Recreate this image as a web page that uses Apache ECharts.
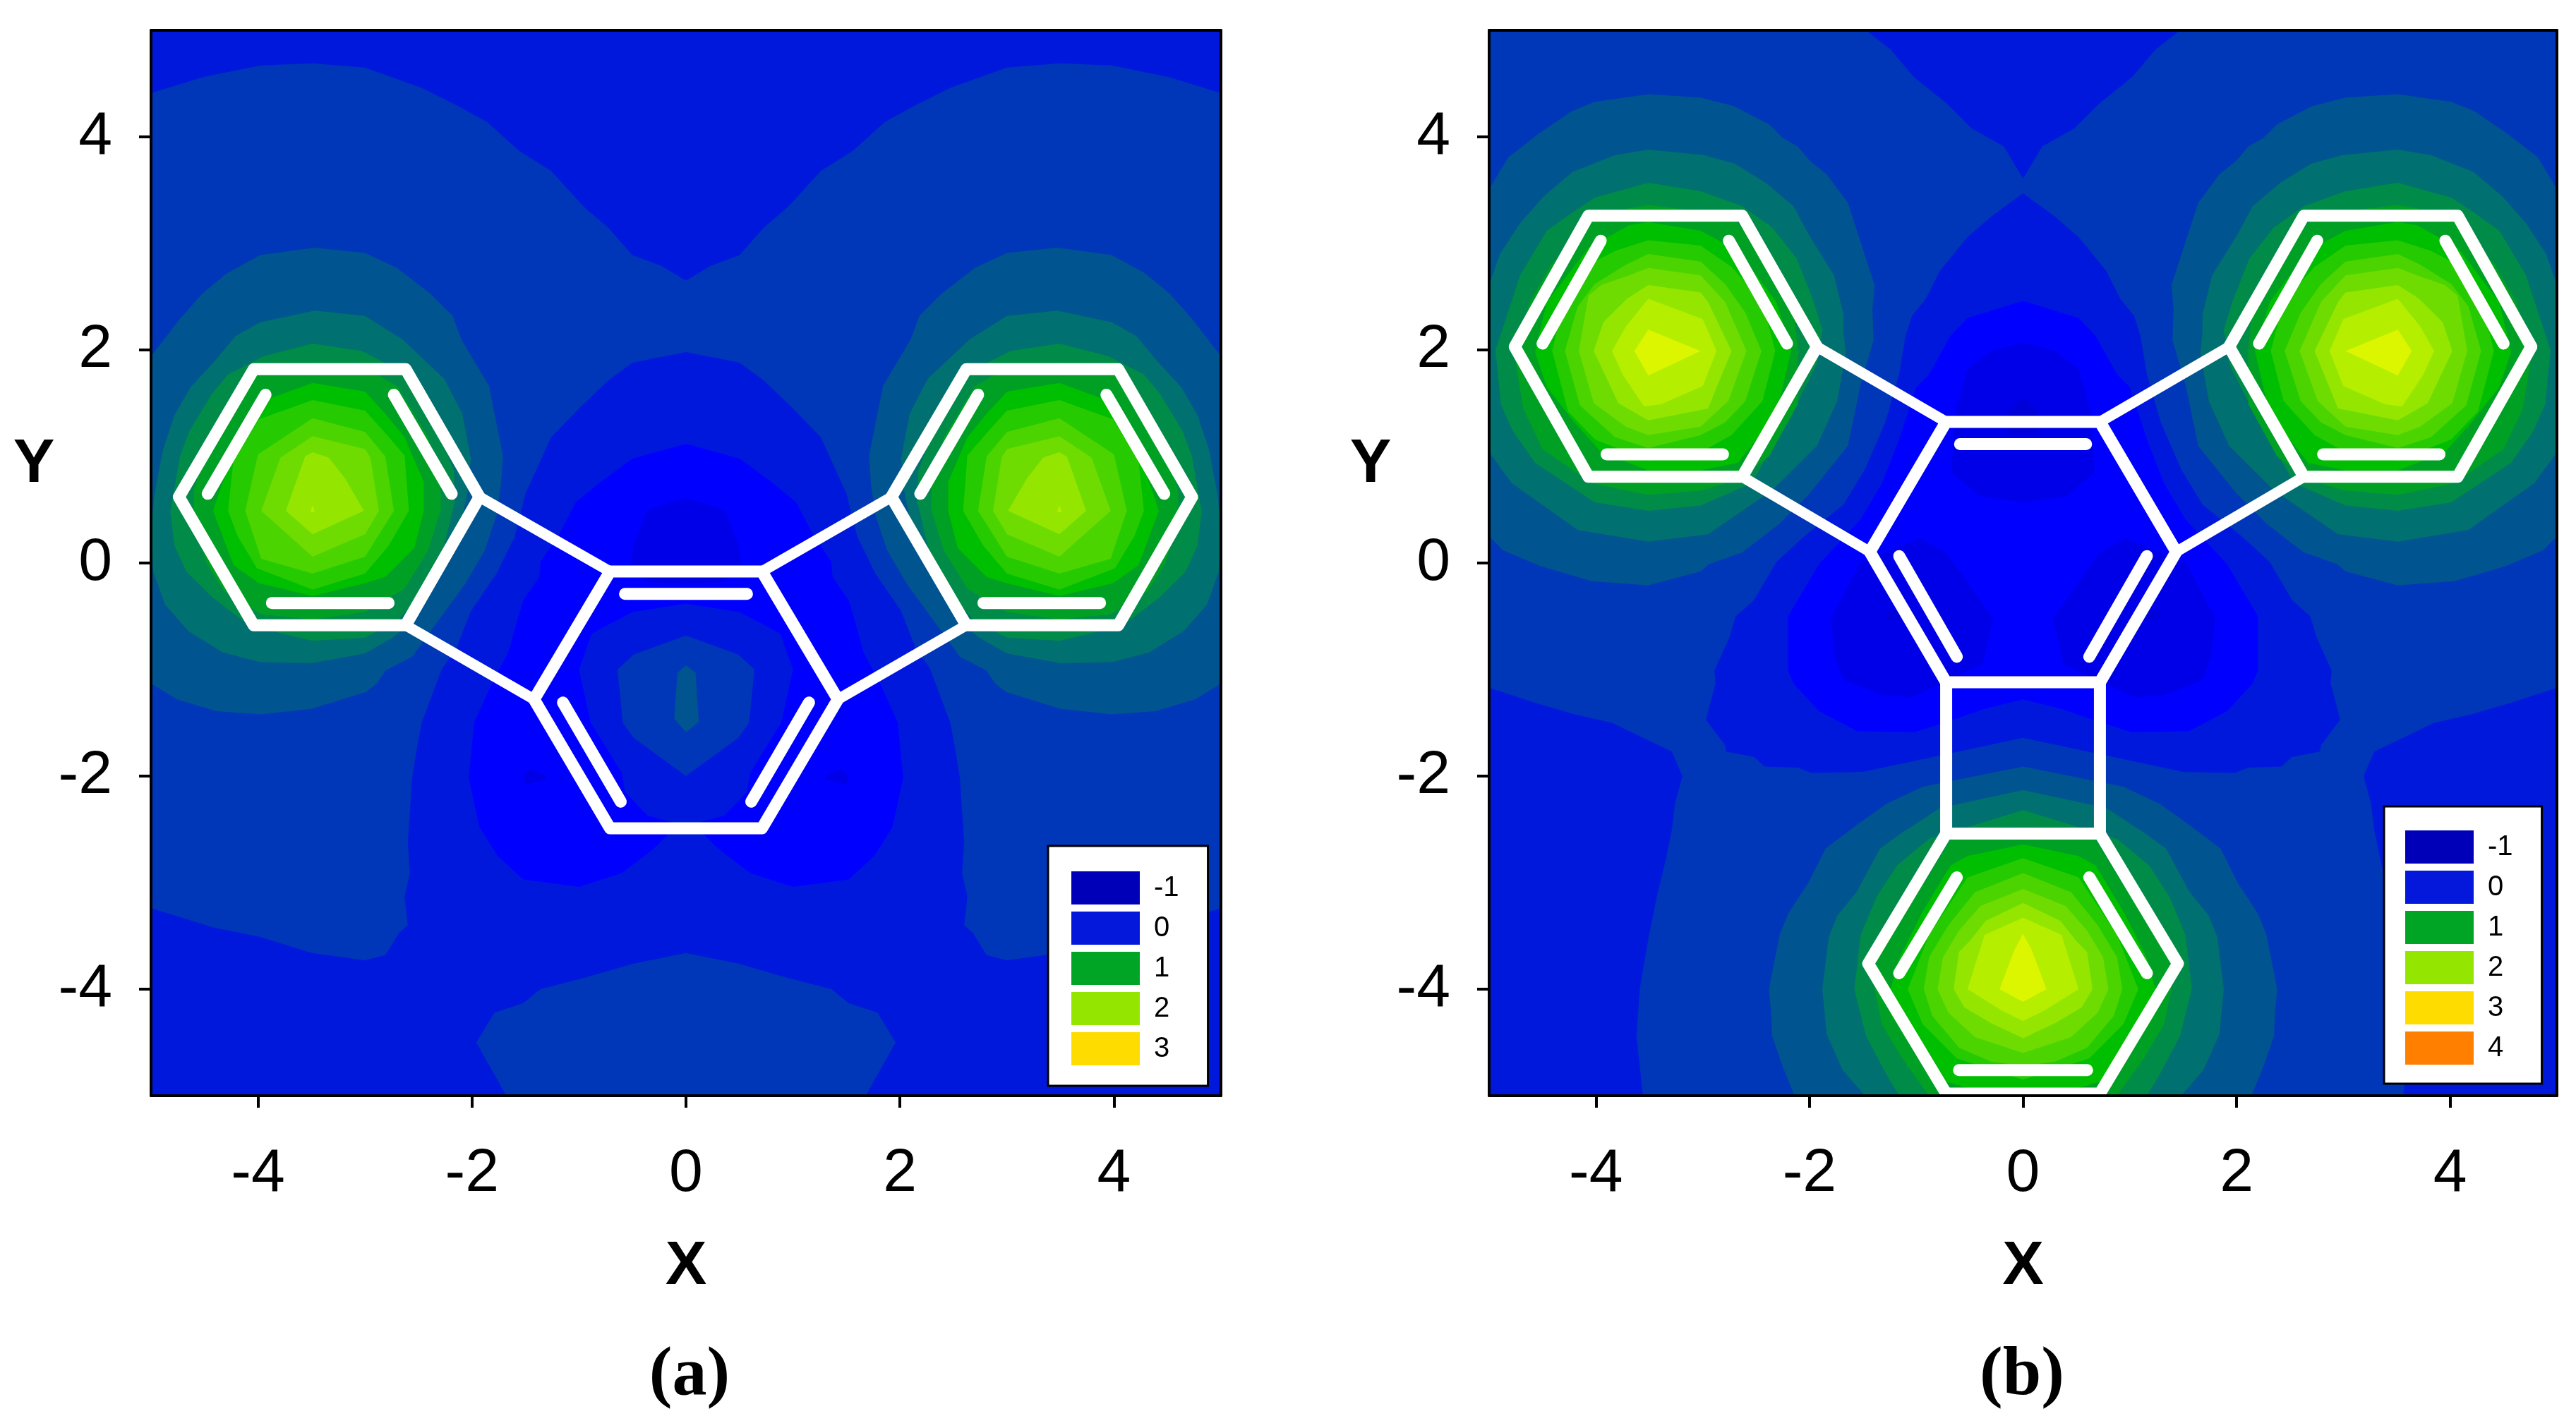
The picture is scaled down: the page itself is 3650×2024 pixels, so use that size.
<!DOCTYPE html>
<html>
<head>
<meta charset="utf-8">
<title>Contour maps (a) and (b)</title>
<script src="https://cdn.jsdelivr.net/npm/echarts@6/dist/echarts.min.js"></script>
<style>
  html, body { margin: 0; background: #fff; }
  #chart { width: 3650px; height: 2024px; }
</style>
</head>
<body>
<div id="chart"></div>
<script>
// tick labels and legend
const tickValues = [-4, -2, 0, 2, 4]
const legendA = ['-1', '0', '1', '2', '3']
const legendB = ['-1', '0', '1', '2', '3', '4']
const legendColors = { '-1': '#0000B8', '0': '#0318DA', '1': '#00A525', '2': '#94E600', '3': '#FFDC00', '4': '#FF8000' }

// contour band colours, low to high
const deepest = '#0000D8'
const deep = '#0000E8'
const blue = '#0000FF'
const band0 = '#0018DC'
const band1 = '#0036B8'
const band2 = '#005490'
const band3 = '#007070'
const band4 = '#008C48'
const band5 = '#00A024'
const band6 = '#00BE00'
const band7 = '#26CA00'
const band8 = '#4CD400'
const band9 = '#6EDC00'
const band10 = '#94E600'
const band11 = '#B6EE00'
const band12 = '#DCF600'

// whole plot area, lowest band
const fullArea = [[-5,5],[5,5],[5,-5],[-5,-5]]

// ---- panel (a) contours, outlines [x, y]
const aOuter = [[-5,4.41],[-4.52,4.56],[-3.98,4.67],[-3.49,4.69],[-3,4.65],[-2.47,4.46],[-2.13,4.29],[-1.86,4.14],[-1.56,3.87],[-1.26,3.68],[-0.95,3.34],[-0.73,3.15],[-0.5,2.89],[-0.23,2.79],[0,2.65],[0.23,2.79],[0.5,2.89],[0.73,3.15],[0.95,3.34],[1.26,3.68],[1.56,3.87],[1.86,4.14],[2.13,4.29],[2.47,4.46],[3,4.65],[3.49,4.69],[3.98,4.67],[4.52,4.56],[5,4.41],[5,-5],[-5,-5]]
const aInner = [[-5,-3.24],[-4.42,-3.42],[-3.98,-3.51],[-3.5,-3.66],[-3,-3.73],[-2.81,-3.68],[-2.68,-3.47],[-2.6,-3.4],[-2.63,-3.13],[-2.58,-2.91],[-2.6,-2.62],[-2.58,-2.33],[-2.56,-2.02],[-2.51,-1.71],[-2.47,-1.5],[-2.28,-0.99],[-2.15,-0.81],[-2.01,-0.45],[-1.77,-0.1],[-1.6,0.25],[-1.5,0.65],[-1.26,1.18],[-0.99,1.46],[-0.73,1.71],[-0.5,1.88],[0,1.98],[0.5,1.88],[0.73,1.71],[0.99,1.46],[1.26,1.18],[1.5,0.65],[1.6,0.25],[1.77,-0.1],[2.01,-0.45],[2.15,-0.81],[2.28,-0.99],[2.47,-1.5],[2.51,-1.71],[2.56,-2.02],[2.58,-2.33],[2.6,-2.62],[2.58,-2.91],[2.63,-3.13],[2.6,-3.4],[2.68,-3.47],[2.81,-3.68],[3,-3.73],[3.5,-3.66],[3.98,-3.51],[4.42,-3.42],[5,-3.24],[5,-5],[-5,-5]]
const aBottomLobe = [[-1.68,-5],[-1.96,-4.5],[-1.79,-4.22],[-1.52,-4.13],[-1.36,-4],[-0.94,-3.89],[-0.49,-3.76],[0,-3.66],[0.49,-3.76],[0.94,-3.89],[1.36,-4],[1.52,-4.13],[1.79,-4.22],[1.96,-4.5],[1.68,-5]]
const aCoreBlue = [[0,1.12],[-0.5,0.98],[-0.8,0.76],[-1.03,0.57],[-1.18,0.28],[-1.36,0.01],[-1.37,-0.13],[-1.52,-0.35],[-1.58,-0.55],[-1.66,-0.84],[-1.8,-1.1],[-1.98,-1.5],[-2.03,-2.02],[-1.93,-2.48],[-1.76,-2.75],[-1.52,-2.97],[-1,-3.04],[-0.6,-2.91],[-0.3,-2.68],[-0.17,-2.55],[0,-2.45],[0.17,-2.55],[0.3,-2.68],[0.6,-2.91],[1,-3.04],[1.52,-2.97],[1.76,-2.75],[1.93,-2.48],[2.03,-2.02],[1.98,-1.5],[1.8,-1.1],[1.66,-0.84],[1.58,-0.55],[1.52,-0.35],[1.37,-0.13],[1.36,0.01],[1.18,0.28],[1.03,0.57],[0.8,0.76],[0.5,0.98]]
const aCoreDeep = [[0,0.61],[-0.36,0.5],[-0.49,0.17],[-0.52,-0.04],[-0.35,-0.18],[0,-0.2],[0.35,-0.18],[0.52,-0.04],[0.49,0.17],[0.36,0.5]]
const aSpotL = [[-1.45,-1.93],[-1.3,-2],[-1.3,-2.03],[-1.5,-2.08],[-1.52,-2]]
const aSpotR = [[1.45,-1.93],[1.3,-2],[1.3,-2.03],[1.5,-2.08],[1.52,-2]]
const aRing0 = [[0,-0.38],[-0.5,-0.46],[-0.88,-0.66],[-1,-1],[-0.89,-1.5],[-0.6,-1.97],[-0.57,-2.15],[-0.36,-2.37],[0,-2.47],[0.36,-2.37],[0.57,-2.15],[0.6,-1.97],[0.89,-1.5],[1,-1],[0.88,-0.66],[0.5,-0.46]]
const aRing1 = [[0,-0.68],[-0.49,-0.86],[-0.64,-1],[-0.59,-1.5],[-0.49,-1.64],[0,-2],[0.49,-1.64],[0.59,-1.5],[0.64,-1],[0.49,-0.86]]
const aRing2 = [[0,-0.96],[-0.08,-1.03],[-0.11,-1.46],[0,-1.59],[0.12,-1.49],[0.09,-1.03]]

const aL2 = [[-5,1.94],[-4.74,2.28],[-4.52,2.53],[-4.29,2.72],[-3.98,2.89],[-3.47,2.96],[-3,2.91],[-2.7,2.77],[-2.39,2.53],[-2.18,2.32],[-2.1,2.1],[-1.84,1.66],[-1.71,1],[-1.73,0.73],[-1.77,0.45],[-1.88,0.12],[-2.06,-0.19],[-2.56,-0.88],[-2.81,-1.01],[-2.89,-1.13],[-2.99,-1.21],[-3.5,-1.37],[-3.98,-1.42],[-4.39,-1.39],[-4.76,-1.28],[-5,-1.13]]
const aL3 = [[-3.47,2.37],[-3,2.32],[-2.65,2.1],[-2.26,1.73],[-2.09,1.4],[-2.01,0.98],[-2.04,0.67],[-2.1,0.38],[-2.26,0],[-2.41,-0.28],[-2.56,-0.55],[-2.74,-0.7],[-3,-0.85],[-3.5,-0.94],[-3.98,-0.93],[-4.33,-0.84],[-4.65,-0.64],[-4.87,-0.39],[-4.98,-0.08],[-5,0.3],[-4.97,0.63],[-4.89,1.06],[-4.78,1.39],[-4.63,1.65],[-4.4,1.9],[-4.21,2.13],[-3.98,2.26]]
const aL4 = [[-3.49,2.06],[-3.03,1.99],[-2.7,1.82],[-2.5,1.6],[-2.37,1.37],[-2.17,0.87],[-2.16,0.58],[-2.3,0],[-2.43,-0.24],[-2.7,-0.55],[-3,-0.7],[-3.49,-0.73],[-4.08,-0.59],[-4.43,-0.32],[-4.67,-0.08],[-4.78,0.16],[-4.82,0.48],[-4.73,1],[-4.64,1.24],[-4.43,1.59],[-4.28,1.77],[-3.95,1.94]]
const aL5 = [[-3.49,1.88],[-3,1.83],[-2.7,1.66],[-2.41,1.18],[-2.3,0.8],[-2.29,0.51],[-2.41,0.12],[-2.63,-0.24],[-3,-0.46],[-3.49,-0.53],[-3.97,-0.48],[-4.32,-0.26],[-4.48,0],[-4.6,0.38],[-4.6,0.69],[-4.48,1.04],[-4.32,1.37],[-4.01,1.79]]
const aL6 = [[-3.49,1.69],[-3,1.61],[-2.81,1.4],[-2.63,1.18],[-2.45,0.76],[-2.45,0.49],[-2.54,0.14],[-2.81,-0.13],[-3,-0.19],[-3.49,-0.31],[-3.99,-0.19],[-4.23,-0.02],[-4.42,0.49],[-4.34,0.73],[-4.23,1],[-4.01,1.44],[-3.93,1.53]]
const aL7 = [[-3.49,1.53],[-3,1.43],[-2.81,1.22],[-2.63,1.01],[-2.59,0.49],[-2.78,0.16],[-3,-0.1],[-3.49,-0.25],[-4.01,-0.05],[-4.19,0.25],[-4.28,0.49],[-4.23,0.96],[-3.99,1.35]]
const aL8 = [[-3.49,1.36],[-3,1.23],[-2.81,1],[-2.73,0.49],[-3,0.06],[-3.49,-0.1],[-3.97,0.04],[-4.12,0.49],[-4,1.02]]
const aL9 = [[-3.49,1.19],[-3,1.07],[-2.95,0.99],[-2.87,0.49],[-3,0.27],[-3.49,0.06],[-3.97,0.49],[-3.79,0.99]]
const aL10 = [[-3.49,1.04],[-3.34,0.99],[-3.19,0.8],[-3.01,0.49],[-3.49,0.27],[-3.74,0.49],[-3.56,1]]
const aL11 = [[-3.49,0.54],[-3.51,0.48],[-3.47,0.48]]

const aR2 = [[5,1.94],[4.74,2.28],[4.52,2.53],[4.29,2.72],[3.98,2.89],[3.47,2.96],[3,2.91],[2.7,2.77],[2.39,2.53],[2.18,2.32],[2.1,2.1],[1.84,1.66],[1.71,1],[1.73,0.73],[1.77,0.45],[1.88,0.12],[2.06,-0.19],[2.56,-0.88],[2.81,-1.01],[2.89,-1.13],[2.99,-1.21],[3.5,-1.37],[3.98,-1.42],[4.39,-1.39],[4.76,-1.28],[5,-1.13]]
const aR3 = [[3.47,2.37],[3,2.32],[2.65,2.1],[2.26,1.73],[2.09,1.4],[2.01,0.98],[2.04,0.67],[2.1,0.38],[2.26,0],[2.41,-0.28],[2.56,-0.55],[2.74,-0.7],[3,-0.85],[3.5,-0.94],[3.98,-0.93],[4.33,-0.84],[4.65,-0.64],[4.87,-0.39],[4.98,-0.08],[5,0.3],[4.97,0.63],[4.89,1.06],[4.78,1.39],[4.63,1.65],[4.4,1.9],[4.21,2.13],[3.98,2.26]]
const aR4 = [[3.49,2.06],[3.03,1.99],[2.7,1.82],[2.5,1.6],[2.37,1.37],[2.17,0.87],[2.16,0.58],[2.3,0],[2.43,-0.24],[2.7,-0.55],[3,-0.7],[3.49,-0.73],[4.08,-0.59],[4.43,-0.32],[4.67,-0.08],[4.78,0.16],[4.82,0.48],[4.73,1],[4.64,1.24],[4.43,1.59],[4.28,1.77],[3.95,1.94]]
const aR5 = [[3.49,1.88],[3,1.83],[2.7,1.66],[2.41,1.18],[2.3,0.8],[2.29,0.51],[2.41,0.12],[2.63,-0.24],[3,-0.46],[3.49,-0.53],[3.97,-0.48],[4.32,-0.26],[4.48,0],[4.6,0.38],[4.6,0.69],[4.48,1.04],[4.32,1.37],[4.01,1.79]]
const aR6 = [[3.49,1.69],[3,1.61],[2.81,1.4],[2.63,1.18],[2.45,0.76],[2.45,0.49],[2.54,0.14],[2.81,-0.13],[3,-0.19],[3.49,-0.31],[3.99,-0.19],[4.23,-0.02],[4.42,0.49],[4.34,0.73],[4.23,1],[4.01,1.44],[3.93,1.53]]
const aR7 = [[3.49,1.53],[3,1.43],[2.81,1.22],[2.63,1.01],[2.59,0.49],[2.78,0.16],[3,-0.1],[3.49,-0.25],[4.01,-0.05],[4.19,0.25],[4.28,0.49],[4.23,0.96],[3.99,1.35]]
const aR8 = [[3.49,1.36],[3,1.23],[2.81,1],[2.73,0.49],[3,0.06],[3.49,-0.1],[3.97,0.04],[4.12,0.49],[4,1.02]]
const aR9 = [[3.49,1.19],[3,1.07],[2.95,0.99],[2.87,0.49],[3,0.27],[3.49,0.06],[3.97,0.49],[3.79,0.99]]
const aR10 = [[3.49,1.04],[3.34,0.99],[3.19,0.8],[3.01,0.49],[3.49,0.27],[3.74,0.49],[3.56,1]]
const aR11 = [[3.49,0.54],[3.51,0.48],[3.47,0.48]]

// painted in this order, later bands cover earlier ones
const aBands = [
  [band0, fullArea], [band1, aOuter], [band0, aInner], [band1, aBottomLobe], [blue, aCoreBlue], [deep, aCoreDeep], [deep, aSpotL], [deep, aSpotR],
  [band0, aRing0], [band1, aRing1], [band2, aRing2],
  [band2, aL2], [band3, aL3], [band4, aL4], [band5, aL5], [band6, aL6], [band7, aL7], [band8, aL8], [band9, aL9], [band10, aL10], [band11, aL11],
  [band2, aR2], [band3, aR3], [band4, aR4], [band5, aR5], [band6, aR6], [band7, aR7], [band8, aR8], [band9, aR9], [band10, aR10], [band11, aR11]
]

// ---- panel (b) contours
const bOuter = [[-5,-1.17],[-5,5],[-1.47,5],[-1.24,4.82],[-1.02,4.56],[-0.71,4.31],[-0.48,4.08],[-0.18,3.91],[0,3.61],[0.18,3.91],[0.48,4.08],[0.71,4.31],[1.02,4.56],[1.24,4.82],[1.47,5],[5,5],[5,-1.17],[4.58,-1.31],[4.2,-1.42],[3.85,-1.5],[3.56,-1.64],[3.29,-1.77],[3.19,-2],[3.26,-2.26],[3.29,-2.51],[3.35,-2.8],[3.43,-3.13],[3.51,-3.53],[3.59,-4],[3.62,-4.44],[3.56,-5],[-3.56,-5],[-3.62,-4.44],[-3.59,-4],[-3.51,-3.53],[-3.43,-3.13],[-3.35,-2.8],[-3.29,-2.51],[-3.26,-2.26],[-3.19,-2],[-3.29,-1.77],[-3.56,-1.64],[-3.85,-1.5],[-4.2,-1.42],[-4.58,-1.31]]
const bInner = [[0,3.47],[-0.3,3.25],[-0.52,3.06],[-0.78,2.74],[-0.91,2.48],[-1.04,2.32],[-1.1,2.13],[-1.16,1.77],[-1.29,1.32],[-1.48,0.88],[-1.68,0.55],[-2.06,0.24],[-2.31,0.01],[-2.52,-0.35],[-2.69,-0.5],[-2.75,-0.7],[-2.89,-1.01],[-2.88,-1.13],[-2.97,-1.47],[-2.79,-1.71],[-2.78,-1.77],[-2.52,-1.82],[-2.42,-1.91],[-2.11,-1.92],[-1.98,-1.97],[-1.5,-1.96],[-0.84,-1.82],[0,-1.64],[0.84,-1.82],[1.5,-1.96],[1.98,-1.97],[2.11,-1.92],[2.42,-1.91],[2.52,-1.82],[2.78,-1.77],[2.79,-1.71],[2.97,-1.47],[2.88,-1.13],[2.89,-1.01],[2.75,-0.7],[2.69,-0.5],[2.52,-0.35],[2.31,0.01],[2.06,0.24],[1.68,0.55],[1.48,0.88],[1.29,1.32],[1.16,1.77],[1.1,2.13],[1.04,2.32],[0.91,2.48],[0.78,2.74],[0.52,3.06],[0.3,3.25]]
const bCoreBlue = [[0,2.46],[-0.52,2.3],[-0.68,2.13],[-0.88,1.77],[-1,1.65],[-1.16,1.16],[-1.32,0.75],[-1.52,0.41],[-1.91,-0.01],[-2.2,-0.5],[-2.2,-1.01],[-2.15,-1.13],[-1.91,-1.39],[-1.55,-1.58],[-1.02,-1.59],[-0.68,-1.48],[-0.36,-1.37],[0,-1.28],[0.36,-1.37],[0.68,-1.48],[1.02,-1.59],[1.55,-1.58],[1.91,-1.39],[2.15,-1.13],[2.2,-1.01],[2.2,-0.5],[1.91,-0.01],[1.52,0.41],[1.32,0.75],[1.16,1.16],[1,1.65],[0.88,1.77],[0.68,2.13],[0.52,2.3]]
const bCoreDeep = [[0,2.07],[-0.3,1.99],[-0.52,1.82],[-0.64,1.39],[-0.67,0.85],[-0.41,0.63],[0,0.57],[0.41,0.63],[0.67,0.85],[0.64,1.39],[0.52,1.82],[0.3,1.99]]
const bCoreDeepest = [[0,1.56],[-0.14,1.42],[-0.14,1.22],[0.14,1.22],[0.14,1.42]]
const bLobeDeepL = [[-1.52,0.01],[-0.96,0.23],[-0.72,0.1],[-0.28,-0.52],[-0.38,-0.95],[-1.04,-1.26],[-1.32,-1.24],[-1.68,-1.1],[-1.76,-0.88],[-1.8,-0.52]]
const bLobeDeepR = [[1.52,0.01],[0.96,0.23],[0.72,0.1],[0.28,-0.52],[0.38,-0.95],[1.04,-1.26],[1.32,-1.24],[1.68,-1.1],[1.76,-0.88],[1.8,-0.52]]
const bSpotL = [[-1.28,-0.45],[-1.14,-0.46],[-1.14,-0.52],[-1.26,-0.54]]
const bSpotR = [[1.28,-0.45],[1.14,-0.46],[1.14,-0.52],[1.26,-0.54]]

const bL2 = [[-3.51,4.4],[-3.02,4.37],[-2.71,4.29],[-2.38,4.12],[-2.25,3.99],[-2.11,3.91],[-2,3.78],[-1.84,3.65],[-1.64,3.38],[-1.39,2.61],[-1.41,2.38],[-1.4,2.09],[-1.52,1.68],[-1.64,1.1],[-2,0.65],[-2.28,0.37],[-2.51,0.19],[-2.63,0.1],[-2.94,-0.01],[-3.02,-0.08],[-3.51,-0.21],[-4.04,-0.17],[-4.52,-0.03],[-4.87,0.12],[-5,0.25],[-5,3.51],[-4.82,3.81],[-4.55,4.02],[-4.23,4.24],[-4.01,4.33]]
const bL3 = [[-3.51,3.88],[-2.99,3.83],[-2.7,3.75],[-2.41,3.57],[-2.15,3.35],[-2.01,3.09],[-1.85,2.83],[-1.77,2.7],[-1.68,2.33],[-1.68,2.16],[-1.66,1.97],[-1.74,1.52],[-1.93,1.1],[-2.35,0.68],[-2.95,0.27],[-3.51,0.2],[-4.17,0.31],[-4.79,0.75],[-5,1.04],[-5,2.61],[-4.9,2.9],[-4.71,3.19],[-4.49,3.44],[-4.22,3.67],[-3.82,3.83]]
const bL4 = [[-3.51,3.57],[-3.02,3.49],[-2.63,3.35],[-2.35,3.15],[-2.12,2.86],[-1.96,2.45],[-1.88,2.19],[-1.93,1.87],[-2.12,1.49],[-2.54,0.75],[-3.02,0.54],[-3.51,0.49],[-4.01,0.57],[-4.57,0.94],[-4.78,1.24],[-4.89,1.49],[-4.94,2],[-4.71,2.7],[-4.46,3.12],[-4.25,3.27],[-4.01,3.43],[-3.72,3.51]]
const bL5 = [[-3.51,3.36],[-3.08,3.31],[-2.7,3.22],[-2.44,2.93],[-2.15,2.45],[-2.11,2],[-2.11,1.49],[-2.38,1],[-2.67,0.78],[-3.02,0.68],[-3.51,0.64],[-4.04,0.75],[-4.5,1.07],[-4.68,1.45],[-4.76,1.93],[-4.62,2.45],[-4.42,2.8],[-4.07,3.19],[-3.69,3.33]]
const bL6 = [[-3.51,3.2],[-3.02,3.12],[-2.67,2.93],[-2.31,2.45],[-2.17,2],[-2.31,1.39],[-2.67,0.94],[-3.02,0.87],[-3.51,0.87],[-3.95,1.04],[-4.2,1.32],[-4.46,1.65],[-4.57,1.98],[-4.46,2.45],[-4.07,2.96],[-3.69,3.17]]
const bL7 = [[-3.51,3.03],[-3.02,2.98],[-2.73,2.78],[-2.44,2.45],[-2.32,1.99],[-2.44,1.52],[-2.73,1.2],[-3.02,1.04],[-3.51,0.96],[-4.01,1.16],[-4.26,1.42],[-4.41,1.99],[-4.3,2.45],[-4.07,2.8],[-3.82,2.93]]
const bL8 = [[-3.51,2.9],[-3.02,2.83],[-2.79,2.62],[-2.6,2.35],[-2.45,1.99],[-2.6,1.52],[-2.79,1.32],[-3.02,1.2],[-3.51,1.08],[-3.82,1.18],[-4.15,1.48],[-4.29,1.99],[-4.17,2.41],[-4.01,2.62],[-3.72,2.8]]
const bL9 = [[-3.51,2.77],[-3.02,2.7],[-2.79,2.45],[-2.59,1.99],[-2.76,1.52],[-3.02,1.28],[-3.51,1.2],[-3.72,1.28],[-4.02,1.5],[-4.16,1.99],[-4.07,2.51],[-3.95,2.61],[-3.69,2.7]]
const bL10 = [[-3.51,2.61],[-3.02,2.54],[-2.95,2.45],[-2.73,1.99],[-2.95,1.45],[-3.51,1.34],[-3.79,1.5],[-4.02,1.99],[-3.93,2.26],[-3.71,2.48]]
const bL11 = [[-3.51,2.48],[-3,2.29],[-2.87,1.99],[-3,1.66],[-3.39,1.49],[-3.55,1.47],[-3.75,1.77],[-3.85,1.99],[-3.72,2.22]]
const bL12 = [[-3.51,2.19],[-3.02,1.99],[-3.51,1.76],[-3.64,1.99]]

const bR2 = [[3.51,4.4],[3.02,4.37],[2.71,4.29],[2.38,4.12],[2.25,3.99],[2.11,3.91],[2,3.78],[1.84,3.65],[1.64,3.38],[1.39,2.61],[1.41,2.38],[1.4,2.09],[1.52,1.68],[1.64,1.1],[2,0.65],[2.28,0.37],[2.51,0.19],[2.63,0.1],[2.94,-0.01],[3.02,-0.08],[3.51,-0.21],[4.04,-0.17],[4.52,-0.03],[4.87,0.12],[5,0.25],[5,3.51],[4.82,3.81],[4.55,4.02],[4.23,4.24],[4.01,4.33]]
const bR3 = [[3.51,3.88],[2.99,3.83],[2.7,3.75],[2.41,3.57],[2.15,3.35],[2.01,3.09],[1.85,2.83],[1.77,2.7],[1.68,2.33],[1.68,2.16],[1.66,1.97],[1.74,1.52],[1.93,1.1],[2.35,0.68],[2.95,0.27],[3.51,0.2],[4.17,0.31],[4.79,0.75],[5,1.04],[5,2.61],[4.9,2.9],[4.71,3.19],[4.49,3.44],[4.22,3.67],[3.82,3.83]]
const bR4 = [[3.51,3.57],[3.02,3.49],[2.63,3.35],[2.35,3.15],[2.12,2.86],[1.96,2.45],[1.88,2.19],[1.93,1.87],[2.12,1.49],[2.54,0.75],[3.02,0.54],[3.51,0.49],[4.01,0.57],[4.57,0.94],[4.78,1.24],[4.89,1.49],[4.94,2],[4.71,2.7],[4.46,3.12],[4.25,3.27],[4.01,3.43],[3.72,3.51]]
const bR5 = [[3.51,3.36],[3.08,3.31],[2.7,3.22],[2.44,2.93],[2.15,2.45],[2.11,2],[2.11,1.49],[2.38,1],[2.67,0.78],[3.02,0.68],[3.51,0.64],[4.04,0.75],[4.5,1.07],[4.68,1.45],[4.76,1.93],[4.62,2.45],[4.42,2.8],[4.07,3.19],[3.69,3.33]]
const bR6 = [[3.51,3.2],[3.02,3.12],[2.67,2.93],[2.31,2.45],[2.17,2],[2.31,1.39],[2.67,0.94],[3.02,0.87],[3.51,0.87],[3.95,1.04],[4.2,1.32],[4.46,1.65],[4.57,1.98],[4.46,2.45],[4.07,2.96],[3.69,3.17]]
const bR7 = [[3.51,3.03],[3.02,2.98],[2.73,2.78],[2.44,2.45],[2.32,1.99],[2.44,1.52],[2.73,1.2],[3.02,1.04],[3.51,0.96],[4.01,1.16],[4.26,1.42],[4.41,1.99],[4.3,2.45],[4.07,2.8],[3.82,2.93]]
const bR8 = [[3.51,2.9],[3.02,2.83],[2.79,2.62],[2.6,2.35],[2.45,1.99],[2.6,1.52],[2.79,1.32],[3.02,1.2],[3.51,1.08],[3.82,1.18],[4.15,1.48],[4.29,1.99],[4.17,2.41],[4.01,2.62],[3.72,2.8]]
const bR9 = [[3.51,2.77],[3.02,2.7],[2.79,2.45],[2.59,1.99],[2.76,1.52],[3.02,1.28],[3.51,1.2],[3.72,1.28],[4.02,1.5],[4.16,1.99],[4.07,2.51],[3.95,2.61],[3.69,2.7]]
const bR10 = [[3.51,2.61],[3.02,2.54],[2.95,2.45],[2.73,1.99],[2.95,1.45],[3.51,1.34],[3.79,1.5],[4.02,1.99],[3.93,2.26],[3.71,2.48]]
const bR11 = [[3.51,2.48],[3,2.29],[2.87,1.99],[3,1.66],[3.39,1.49],[3.55,1.47],[3.75,1.77],[3.85,1.99],[3.72,2.22]]
const bR12 = [[3.51,2.19],[3.02,1.99],[3.51,1.76],[3.64,1.99]]

const bB2 = [[-2.14,-5],[-2.25,-4.73],[-2.35,-4.44],[-2.36,-4.22],[-2.38,-4],[-2.28,-3.49],[-2.2,-3.29],[-2.01,-3],[-1.85,-2.68],[-1.56,-2.46],[-1.28,-2.26],[-0.94,-2.1],[0,-1.91],[0.94,-2.1],[1.28,-2.26],[1.56,-2.46],[1.85,-2.68],[2.01,-3],[2.2,-3.29],[2.28,-3.49],[2.38,-4],[2.36,-4.22],[2.35,-4.44],[2.25,-4.73],[2.14,-5]]
const bB3 = [[-1.48,-5],[-1.69,-4.76],[-1.84,-4.42],[-1.88,-4],[-1.82,-3.51],[-1.74,-3.31],[-1.56,-3.09],[-1.34,-2.68],[-1.16,-2.55],[-0.78,-2.3],[0,-2.13],[0.78,-2.3],[1.16,-2.55],[1.34,-2.68],[1.56,-3.09],[1.74,-3.31],[1.82,-3.51],[1.88,-4],[1.84,-4.42],[1.69,-4.76],[1.48,-5]]
const bB4 = [[-1.16,-5],[-1.28,-4.8],[-1.47,-4.44],[-1.58,-4],[-1.52,-3.49],[-1.37,-3.13],[-1.18,-2.84],[-0.88,-2.59],[0,-2.32],[0.88,-2.59],[1.18,-2.84],[1.37,-3.13],[1.52,-3.49],[1.58,-4],[1.47,-4.44],[1.28,-4.8],[1.16,-5]]
const bB5 = [[-0.88,-5],[-1.13,-4.65],[-1.32,-4.33],[-1.39,-4],[-1.36,-3.6],[-1.2,-3.27],[-0.91,-2.98],[-0.68,-2.6],[0,-2.48],[0.68,-2.6],[0.91,-2.98],[1.2,-3.27],[1.36,-3.6],[1.39,-4],[1.32,-4.33],[1.13,-4.65],[0.88,-5]]
const bB6 = [[0,-2.64],[-0.52,-2.75],[-0.68,-2.84],[-0.94,-3.27],[-1.16,-3.71],[-1.24,-4],[-1.23,-4.25],[-1.04,-4.55],[-0.72,-4.87],[-0.27,-5],[0.27,-5],[0.72,-4.87],[1.04,-4.55],[1.23,-4.25],[1.24,-4],[1.16,-3.71],[0.94,-3.27],[0.68,-2.84],[0.52,-2.75]]
const bB7 = [[0,-2.77],[-0.52,-2.95],[-0.88,-3.49],[-1.08,-4],[-0.94,-4.33],[-0.62,-4.65],[0,-4.85],[0.62,-4.65],[0.94,-4.33],[1.08,-4],[0.88,-3.49],[0.52,-2.95]]
const bB8 = [[0,-2.91],[-0.45,-3.09],[-0.7,-3.4],[-0.88,-3.7],[-0.93,-4],[-0.85,-4.25],[-0.6,-4.55],[-0.3,-4.68],[0,-4.72],[0.3,-4.68],[0.6,-4.55],[0.85,-4.25],[0.93,-4],[0.88,-3.7],[0.7,-3.4],[0.45,-3.09]]
const bB9 = [[0,-3.06],[-0.4,-3.22],[-0.6,-3.45],[-0.75,-3.7],[-0.8,-4],[-0.7,-4.22],[-0.45,-4.45],[0,-4.6],[0.45,-4.45],[0.7,-4.22],[0.8,-4],[0.75,-3.7],[0.6,-3.45],[0.4,-3.22]]
const bB10 = [[0,-3.19],[-0.35,-3.36],[-0.5,-3.55],[-0.6,-3.65],[-0.65,-4],[-0.55,-4.17],[-0.3,-4.32],[0,-4.46],[0.3,-4.32],[0.55,-4.17],[0.65,-4],[0.6,-3.65],[0.5,-3.55],[0.35,-3.36]]
const bB11 = [[0,-3.33],[-0.36,-3.49],[-0.52,-4],[-0.2,-4.2],[0,-4.3],[0.2,-4.2],[0.52,-4],[0.36,-3.49]]
const bB12 = [[0,-3.48],[-0.08,-3.63],[-0.22,-4],[0,-4.12],[0.22,-4],[0.08,-3.63]]

const bBands = [
  [band0, fullArea], [band1, bOuter], [band0, bInner], [blue, bCoreBlue], [deep, bCoreDeep], [deepest, bCoreDeepest],
  [deep, bLobeDeepL], [deep, bLobeDeepR], [deepest, bSpotL], [deepest, bSpotR],
  [band2, bL2], [band3, bL3], [band4, bL4], [band5, bL5], [band6, bL6], [band7, bL7], [band8, bL8], [band9, bL9], [band10, bL10], [band11, bL11], [band12, bL12],
  [band2, bR2], [band3, bR3], [band4, bR4], [band5, bR5], [band6, bR6], [band7, bR7], [band8, bR8], [band9, bR9], [band10, bR10], [band11, bR11], [band12, bR12],
  [band2, bB2], [band3, bB3], [band4, bB4], [band5, bB5], [band6, bB6], [band7, bB7], [band8, bB8], [band9, bB9], [band10, bB10], [band11, bB11], [band12, bB12]
]

// ---- molecule overlays, white strokes [x, y]
const aRingBonds = [
  [[-4.04,1.82],[-2.62,1.82],[-1.93,0.62],[-2.62,-0.585],[-4.04,-0.585],[-4.74,0.62],[-4.04,1.82]],
  [[2.62,1.82],[4.04,1.82],[4.73,0.62],[4.04,-0.585],[2.62,-0.585],[1.92,0.62],[2.62,1.82]],
  [[-0.71,-0.08],[0.71,-0.08],[1.42,-1.28],[0.71,-2.49],[-0.71,-2.49],[-1.42,-1.28],[-0.71,-0.08]]
]
const aBridges = [
  [[-1.93,0.62],[-0.71,-0.08]], [[-2.62,-0.585],[-1.42,-1.28]],
  [[1.92,0.62],[0.71,-0.08]], [[2.62,-0.585],[1.42,-1.28]]
]
const aDoubles = [
  [[-3.93,1.58],[-4.47,0.65]], [[-2.73,1.58],[-2.19,0.65]], [[-3.87,-0.375],[-2.78,-0.375]],
  [[2.73,1.58],[2.19,0.65]], [[3.93,1.58],[4.47,0.65]], [[2.78,-0.375],[3.87,-0.375]],
  [[-0.57,-0.29],[0.57,-0.29]], [[-1.15,-1.31],[-0.61,-2.24]], [[1.15,-1.31],[0.61,-2.24]]
]

const bRingBonds = [
  [[-4.07,3.26],[-2.63,3.26],[-1.93,2.03],[-2.63,0.81],[-4.07,0.81],[-4.76,2.03],[-4.07,3.26]],
  [[2.63,3.26],[4.07,3.26],[4.76,2.03],[4.07,0.81],[2.63,0.81],[1.93,2.03],[2.63,3.26]],
  [[-0.72,1.325],[0.72,1.325],[1.435,0.105],[0.72,-1.12],[-0.72,-1.12],[-1.435,0.105],[-0.72,1.325]],
  [[-0.72,-2.54],[0.72,-2.54],[1.45,-3.76],[0.72,-4.98],[-0.72,-4.98],[-1.45,-3.76],[-0.72,-2.54]],
  [[-0.72,-1.12],[-0.72,-2.54]], [[0.72,-1.12],[0.72,-2.54]]
]
const bBridges = [
  [[-1.93,2.03],[-0.72,1.325]], [[-2.63,0.81],[-1.435,0.105]],
  [[1.93,2.03],[0.72,1.325]], [[2.63,0.81],[1.435,0.105]]
]
const bDoubles = [
  [[-3.955,3.025],[-4.5,2.06]], [[-2.755,3.025],[-2.21,2.06]], [[-3.9,1.02],[-2.81,1.02]],
  [[2.755,3.025],[2.21,2.06]], [[3.955,3.025],[4.5,2.06]], [[2.81,1.02],[3.9,1.02]],
  [[-0.59,1.116],[0.59,1.116]], [[-1.16,0.065],[-0.62,-0.88]], [[1.16,0.065],[0.62,-0.88]],
  [[-0.62,-2.95],[-1.16,-3.85]], [[0.62,-2.95],[1.16,-3.85]], [[-0.6,-4.76],[0.6,-4.76]]
]

// ---- builders
const font = '"Liberation Sans", Arial, sans-serif'
const captionFont = '"Liberation Serif", serif'

// one filled contour polygon, placed through the panel's axes
function contourSeries(panel, color, outline) {
  return {
    type: 'custom',
    xAxisIndex: panel,
    yAxisIndex: panel,
    clip: true,
    silent: true,
    z: 2,
    data: outline,
    renderItem: (params, api) => {
      if (params.dataIndex !== 0) return null
      return {
        type: 'polygon',
        shape: { points: outline.map(p => api.coord(p)) },
        style: { fill: color }
      }
    }
  }
}

function strokeSeries(panel, points, width) {
  return {
    type: 'line',
    xAxisIndex: panel,
    yAxisIndex: panel,
    data: points,
    clip: true,
    silent: true,
    symbol: 'none',
    z: 4,
    lineStyle: { color: '#fff', width, cap: 'round', join: 'round' }
  }
}

function panelSeries(panel, bands, rings, bridges, doubles) {
  return [
    ...bands.map(b => contourSeries(panel, b[0], b[1])),
    ...rings.map(r => strokeSeries(panel, r, 17)),
    ...bridges.map(r => strokeSeries(panel, r, 15)),
    ...doubles.map(r => strokeSeries(panel, r, 17))
  ]
}

function mainAxis(panel, position, name) {
  const isX = position === 'bottom'
  return {
    type: 'value',
    gridIndex: panel,
    position,
    min: -5,
    max: 5,
    z: 10,
    name,
    nameLocation: 'middle',
    nameGap: 199,
    nameTextStyle: { fontFamily: font, fontSize: 88, fontWeight: 'bold', color: '#000' },
    splitLine: { show: false },
    axisLine: { show: true, onZero: false, lineStyle: { color: '#000', width: 4 } },
    axisTick: { show: true, length: 17, customValues: tickValues, lineStyle: { color: '#000', width: 4 } },
    axisLabel: {
      show: true,
      customValues: tickValues,
      margin: isX ? 68 : 55,
      fontFamily: font,
      fontSize: 86,
      color: '#000'
    }
  }
}

// top and right frame edges
function frameAxis(panel, position) {
  return {
    type: 'value',
    gridIndex: panel,
    position,
    min: -5,
    max: 5,
    z: 10,
    splitLine: { show: false },
    axisLine: { show: true, onZero: false, lineStyle: { color: '#000', width: 4 } },
    axisTick: { show: false },
    axisLabel: { show: false }
  }
}

function yTitle(left) {
  return { text: 'Y', left, top: 610, textAlign: 'center', textStyle: { fontFamily: font, fontSize: 88, fontWeight: 'bold', color: '#000' } }
}

function caption(text, left) {
  return { text, left, top: 1897, textAlign: 'center', textStyle: { fontFamily: captionFont, fontSize: 98, fontWeight: 'bold', color: '#000' } }
}

function legendBox(names, left, top, padding) {
  return {
    left,
    top,
    orient: 'vertical',
    selectedMode: false,
    icon: 'rect',
    itemWidth: 97,
    itemHeight: 47,
    itemGap: 10,
    padding,
    backgroundColor: '#fff',
    borderColor: '#000',
    borderWidth: 3,
    borderRadius: 0,
    z: 12,
    textStyle: { fontFamily: font, fontSize: 40, color: '#000', padding: [0, 0, 0, 15] },
    data: names.map(name => ({ name, itemStyle: { color: legendColors[name] } }))
  }
}

const legendSeries = legendB.map(name => ({
  type: 'custom',
  name,
  data: [],
  itemStyle: { color: legendColors[name] },
  renderItem: () => null
}))

const chart = echarts.init(document.getElementById('chart'), null, { renderer: 'canvas' })

chart.setOption({
  animation: false,
  backgroundColor: '#fff',
  title: [yTitle(43), yTitle(1937), caption('(a)', 972), caption('(b)', 2860)],
  grid: [
    { left: 214, top: 43, width: 1516, height: 1510, outerBoundsMode: 'none' },
    { left: 2110, top: 43, width: 1513, height: 1510, outerBoundsMode: 'none' }
  ],
  xAxis: [mainAxis(0, 'bottom', 'X'), mainAxis(1, 'bottom', 'X'), frameAxis(0, 'top'), frameAxis(1, 'top')],
  yAxis: [
    { ...mainAxis(0, 'left', ''), name: '' },
    { ...mainAxis(1, 'left', ''), name: '' },
    frameAxis(0, 'right'),
    frameAxis(1, 'right')
  ],
  legend: [
    legendBox(legendA, 1485, 1199, [36, 41, 29, 33]),
    legendBox(legendB, 3378, 1143, [34, 41, 27, 30])
  ],
  series: [
    ...panelSeries(0, aBands, aRingBonds, aBridges, aDoubles),
    ...panelSeries(1, bBands, bRingBonds, bBridges, bDoubles),
    ...legendSeries
  ]
})
</script>
</body>
</html>
